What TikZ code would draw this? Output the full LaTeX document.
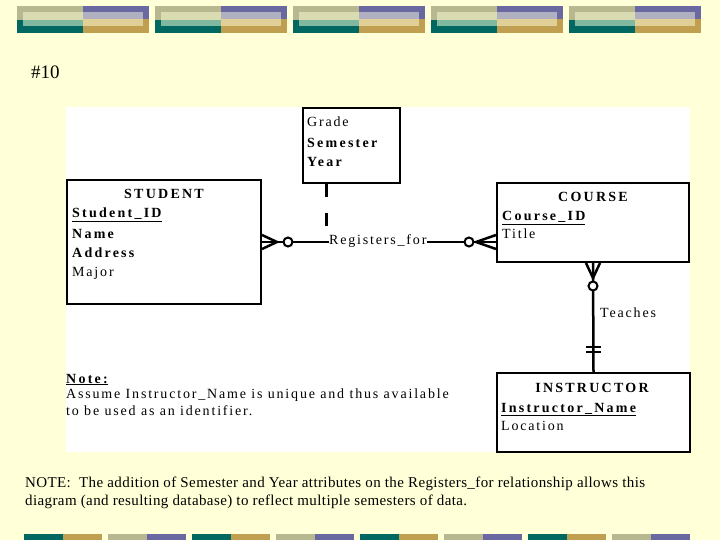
\documentclass[tikz,border=0pt]{standalone}
\usepackage{fontspec}
\setmainfont{Liberation Serif}
\newfontfamily\dfont[LetterSpace=13,BoldFeatures={LetterSpace=16}]{Liberation Serif}
\newfontfamily\ffont[LetterSpace=2.6]{Liberation Serif}
\definecolor{bgyel}{HTML}{FFFFD8}
\definecolor{khaki}{HTML}{B8B890}
\definecolor{lkhaki}{HTML}{D8DCB0}
\definecolor{purp}{HTML}{6A68A0}
\definecolor{lav}{HTML}{B0B0C0}
\definecolor{teal}{HTML}{006860}
\definecolor{lteal}{HTML}{80B8A0}
\definecolor{gold}{HTML}{C0A050}
\definecolor{lgold}{HTML}{E0D098}
\begin{document}
\begin{tikzpicture}[x=1pt,y=-1pt,
  box/.style={draw=black,line width=2pt,fill=white,inner sep=0pt},
  conn/.style={draw=black,line width=2.5pt},
  circ/.style={circle,draw=black,line width=2pt,fill=white,minimum size=9pt,inner sep=0pt},
  dt/.style={anchor=base west,inner sep=0pt,font=\dfont\fontsize{14}{19}\selectfont},
  dtb/.style={dt,font=\dfont\fontsize{14}{19}\selectfont\bfseries},
  foot/.style={anchor=base west,inner sep=0pt,font=\ffont\fontsize{15}{18}\selectfont}]
\useasboundingbox (0,0) rectangle (720,540);
\fill[bgyel] (0,0) rectangle (720,540);
% top banner
\foreach \i in {0,...,4}{
  \pgfmathsetmacro{\xa}{17+138*\i}
  \fill[khaki] (\xa,6) rectangle (\xa+66,20);
  \fill[teal] (\xa,20) rectangle (\xa+66,33);
  \fill[purp] (\xa+66,6) rectangle (\xa+132,19);
  \fill[gold] (\xa+66,19) rectangle (\xa+132,33);
  \fill[lkhaki] (\xa+6,12) rectangle (\xa+66,20);
  \fill[lteal] (\xa+6,20) rectangle (\xa+66,26);
  \fill[lav] (\xa+66,12) rectangle (\xa+126,19);
  \fill[lgold] (\xa+66,19) rectangle (\xa+126,26);
}
% bottom strip
\foreach \i in {0,2,4,6}{
  \pgfmathsetmacro{\xa}{24+84*\i}
  \fill[teal] (\xa,534) rectangle (\xa+39,540);
  \fill[gold] (\xa+39,534) rectangle (\xa+78,540);
  \fill[khaki] (\xa+84,534) rectangle (\xa+123,540);
  \fill[purp] (\xa+123,534) rectangle (\xa+162,540);
}
% white diagram area
\fill[white] (66,107) rectangle (690,452);
% title
\node[anchor=base west,inner sep=0pt,font=\fontsize{19}{22}\selectfont] (title) at (31,79) {\#10};
% entity boxes
\node[box,minimum width=97pt,minimum height=75pt] (grade) at (351.5,145.5) {};
\node[box,minimum width=194pt,minimum height=124pt] (student) at (164,242) {};
\node[box,minimum width=192pt,minimum height=79pt] (course) at (593,222.5) {};
\node[box,minimum width=193pt,minimum height=79pt] (instr) at (593.5,412.5) {};
% texts
\node[dt] (g1) at (307,127) {Grade};
\node[dtb] (g2) at (307,148) {Semester};
\node[dtb] (g3) at (307,167) {Year};
\node[dtb,anchor=base] (s0) at (164,199) {STUDENT};
\node[dtb] (s1) at (72,218) {\underline{Student\_ID}};
\node[dtb] (s2) at (72,238) {Name};
\node[dtb] (s3) at (72,257) {Address};
\node[dt] (s4) at (72,276) {Major};
\node[dtb,anchor=base] (c0) at (593,202) {COURSE};
\node[dtb] (c1) at (502,221) {\underline{Course\_ID}};
\node[dt] (c2) at (502,239) {Title};
\node[dtb,anchor=base] (i0) at (592,392) {INSTRUCTOR};
\node[dtb] (i1) at (501,412) {\underline{Instructor\_Name}};
\node[dt] (i2) at (501,430) {Location};
\node[dtb] (n0) at (66,383) {\underline{Note:}};
\node[dt] (n1) at (66,398) {Assume Instructor\_Name is unique and thus available};
\node[dt] (n2) at (66,415) {to be used as an identifier.};
% Registers_for relationship
\node[dt] (reg) at (329,244) {Registers\_for};
\draw[conn] (student.east) -- (reg.west |- student.east);
\draw[conn] (reg.east |- student.east) -- (course.west |- student.east);
\draw[conn] (262,235) -- (277,242) -- (262,249);
\draw[conn] (496,235) -- (476,242) -- (496,249);
\node[circ] (o1) at (288,242) {};
\node[circ] (o2) at (469,242) {};
\coordinate (dend) at (326,227);
\draw[line width=3pt,dash pattern=on 13pt off 16pt] (grade.south west -| dend) -- (dend);
% Teaches relationship
\draw[conn] (course.south) -- (instr.north);
\draw[conn] (586,263) -- (593,278) -- (600,263);
\node[circ] (o3) at (593,286) {};
\draw[conn] (586,347) -- (601,347);
\draw[conn] (586,352) -- (601,352);
\node[dt] (teach) at (600,317) {Teaches};
% footnote
\node[foot] (f1) at (25,487) {NOTE:\ \ The addition of Semester and Year attributes on the Registers\_for relationship allows this};
\node[foot] (f2) at (25,505) {diagram (and resulting database) to reflect multiple semesters of data.};
\end{tikzpicture}
\end{document}
